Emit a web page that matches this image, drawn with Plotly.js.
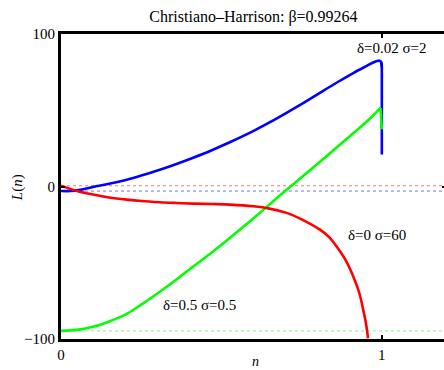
<!DOCTYPE html>
<html>
<head>
<meta charset="utf-8">
<script src="https://cdn.plot.ly/plotly-3.0.1.min.js"></script>
<style>html,body{margin:0;padding:0;overflow:hidden;background:#fff;}</style>
</head>
<body>
<div id="chart" style="width:446px;height:370px;"></div>
<script>
// δ=0.02 σ=2 (blue)
const blueN = [0, 0.03, 0.06, 0.10, 0.15, 0.205, 0.25, 0.308, 0.36, 0.412, 0.47, 0.526, 0.599, 0.65, 0.703, 0.76, 0.807, 0.86, 0.911, 0.95, 0.973, 0.985, 0.993, 0.998, 1.0, 1.0];
const blueL = [-3, -3, -2.2, -0.3, 1.8, 4.5, 7.2, 11.0, 14.8, 18.9, 23.8, 29.0, 36.3, 42.0, 48.3, 55.3, 61.4, 68.2, 74.4, 78.8, 81.3, 82.3, 82.5, 81.5, 78.0, 21.0];
// δ=0.5 σ=0.5 (green)
const greenN = [0, 0.05, 0.10, 0.15, 0.205, 0.25, 0.308, 0.36, 0.412, 0.47, 0.526, 0.599, 0.65, 0.703, 0.76, 0.807, 0.86, 0.911, 0.96, 0.996, 1.0];
const greenL = [-94.7, -94.0, -92.0, -88.5, -83.5, -77.5, -69.0, -61.0, -52.5, -43.3, -33.8, -21.0, -11.8, -2.2, 7.8, 16.2, 25.7, 34.9, 43.9, 51.5, 37.5];
// δ=0 σ=60 (red)
const redN = [0, 0.05, 0.10, 0.15, 0.205, 0.25, 0.308, 0.36, 0.412, 0.47, 0.526, 0.599, 0.65, 0.703, 0.75, 0.807, 0.835, 0.859, 0.885, 0.911, 0.93, 0.942, 0.95, 0.957];
const redL = [0.5, -3.0, -5.3, -7.2, -8.6, -9.5, -10.3, -10.8, -11.2, -11.5, -11.9, -13.0, -14.5, -17.3, -21.5, -28.3, -33.0, -39.3, -47.5, -59.0, -70.0, -80.9, -89.0, -99.5];
// reference levels L(0)
const refN = [0, 1.2];
const xTicks = [0, 1];
const yTicks = [-100, 0, 100];

const serif = '"Liberation Serif", "Times New Roman", Times, serif';
// split each curve into smooth body + final steep drop
const nb = blueN.length - 2, ng = greenN.length - 1;
const traces = [
  {x: refN, y: [redL[0], redL[0]], mode: 'lines', line: {color: 'rgba(255,0,0,0.55)', width: 1, dash: 'dot'}, hoverinfo: 'skip'},
  {x: refN, y: [blueL[0], blueL[0]], mode: 'lines', line: {color: 'rgba(0,0,255,0.55)', width: 1, dash: 'dot'}, hoverinfo: 'skip'},
  {x: refN, y: [greenL[0], greenL[0]], mode: 'lines', line: {color: 'rgba(0,220,0,0.45)', width: 1, dash: 'dot'}, hoverinfo: 'skip'},
  {x: blueN.slice(0, nb + 1), y: blueL.slice(0, nb + 1), mode: 'lines', line: {color: '#0000ff', width: 2.6, shape: 'spline', smoothing: 1}},
  {x: blueN.slice(nb - 1), y: blueL.slice(nb - 1), mode: 'lines', line: {color: '#0000ff', width: 2.6}},
  {x: greenN.slice(0, ng), y: greenL.slice(0, ng), mode: 'lines', line: {color: '#00ff00', width: 2.6, shape: 'spline', smoothing: 1}},
  {x: greenN.slice(ng - 1), y: greenL.slice(ng - 1), mode: 'lines', line: {color: '#00ff00', width: 2.6}},
  {x: redN, y: redL, mode: 'lines', line: {color: '#ff0000', width: 2.6, shape: 'spline', smoothing: 1}}
];
const layout = {
  width: 446, height: 370,
  margin: {l: 61, r: 0, t: 34, b: 31},
  showlegend: false,
  paper_bgcolor: '#fff', plot_bgcolor: '#fff',
  font: {family: serif, size: 15, color: '#000'},
  title: {text: 'Christiano\u2013Harrison: \u03b2=0.99264', font: {family: serif, size: 16, color: '#000'}, x: 0.5, xanchor: 'center', y: 0.955, yanchor: 'middle', xref: 'paper'},
  xaxis: {
    range: [0, 1.2], tickvals: xTicks, ticktext: xTicks.map(String),
    showgrid: false, zeroline: false, showline: true, linecolor: '#000', linewidth: 3,
    mirror: 'ticks', ticks: 'inside', ticklen: 4, tickwidth: 2, tickcolor: '#000',
    tickfont: {family: serif, size: 15}
  },
  yaxis: {
    range: [-100, 100], tickvals: yTicks, ticktext: ['\u2212100', '0', '100'],
    showgrid: false, zeroline: false, showline: true, linecolor: '#000', linewidth: 3,
    mirror: 'ticks', ticks: 'inside', ticklen: 4, tickwidth: 2, tickcolor: '#000',
    tickfont: {family: serif, size: 15}
  },
  annotations: [
    {x: 0.504, y: -0.074, xref: 'paper', yref: 'paper', text: '<i>n</i>', showarrow: false, font: {family: serif, size: 14}, xanchor: 'center', yanchor: 'middle'},
    {x: -0.114, y: 0.495, xref: 'paper', yref: 'paper', text: '<i>L</i>(<i>n</i>)', textangle: -90, showarrow: false, font: {family: serif, size: 15}, xanchor: 'center', yanchor: 'middle'},
    {x: 1.032, y: 90.5, xref: 'x', yref: 'y', text: '\u03b4=0.02 \u03c3=2', showarrow: false, font: {family: serif, size: 15}},
    {x: 0.985, y: -32, xref: 'x', yref: 'y', text: '\u03b4=0 \u03c3=60', showarrow: false, font: {family: serif, size: 15}},
    {x: 0.433, y: -78, xref: 'x', yref: 'y', text: '\u03b4=0.5 \u03c3=0.5', showarrow: false, font: {family: serif, size: 15}}
  ]
};
Plotly.newPlot('chart', traces, layout, {displayModeBar: false, staticPlot: true});
</script>
</body>
</html>
